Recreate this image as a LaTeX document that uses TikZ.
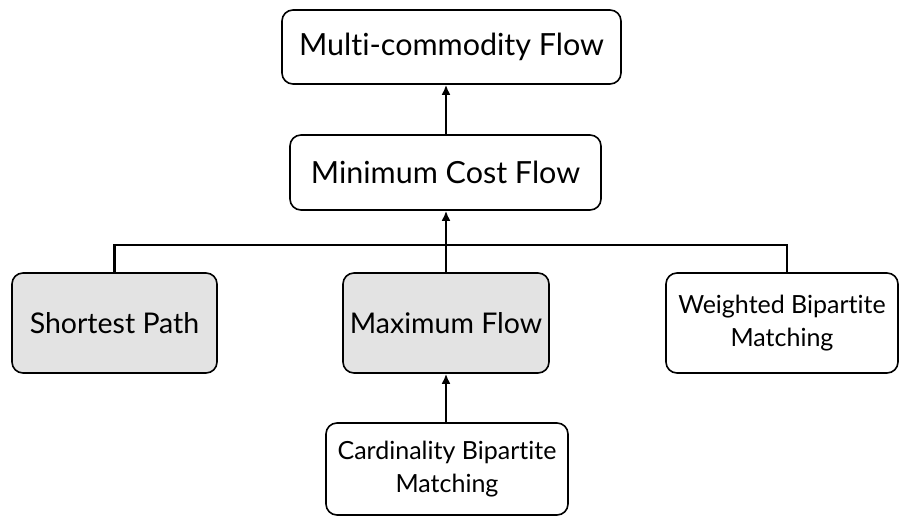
\documentclass[tikz,border=0pt]{standalone}
\usepackage{fontspec}
\setmainfont[Ligatures=NoCommon]{Lato}
\usetikzlibrary{arrows.meta, positioning}

\begin{document}
\begin{tikzpicture}[x=1pt, y=-1pt,
    flow_box/.style={draw=black, line width=1.6pt, rounded corners=11pt, fill=white, align=center, inner sep=0pt, font=\fontsize{30.5}{36}\selectfont},
    base_box/.style={flow_box, fill=black!11, font=\fontsize{28.5}{34}\selectfont},
    two_line/.style={flow_box, font=\fontsize{25}{33}\selectfont},
    arrow/.style={-{Latex[length=10pt, width=9pt]}, line width=2.6pt},
    link/.style={line width=2.6pt}
]
    \useasboundingbox (0,0) rectangle (899,518);

    % Upper chain
    \node[flow_box, minimum width=339pt, minimum height=74pt] (multi) at (451.5,47) {Multi-commodity Flow};
    \node[flow_box, minimum width=311pt, minimum height=75pt] (mincost) at (445.5,172.5) {Minimum Cost Flow};

    % Middle row
    \node[base_box, minimum width=205pt, minimum height=100pt] (shortest) at (114.5,323) {Shortest Path};
    \node[base_box, minimum width=206pt, minimum height=100pt] (maxflow) at (446,323) {Maximum Flow};
    \node[two_line, minimum width=232pt, minimum height=100pt] (weighted) at (782,323) {Weighted Bipartite\\Matching};

    % Bottom
    \node[two_line, minimum width=242pt, minimum height=92pt] (cardinality) at (447,469) {Cardinality Bipartite\\Matching};

    % Connectors
    \coordinate (split) at (446,245);
    \draw[arrow] (mincost.north -| split) -- (multi.south -| split);
    \draw[link] (shortest.north) |- (split) -| ([xshift=5pt]weighted.north);
    \draw[arrow] (split) -- (mincost.south -| split);
    \draw[link] (split) -- (maxflow.north);
    \draw[arrow] (cardinality.north -| split) -- (maxflow.south -| split);

\end{tikzpicture}
\end{document}
